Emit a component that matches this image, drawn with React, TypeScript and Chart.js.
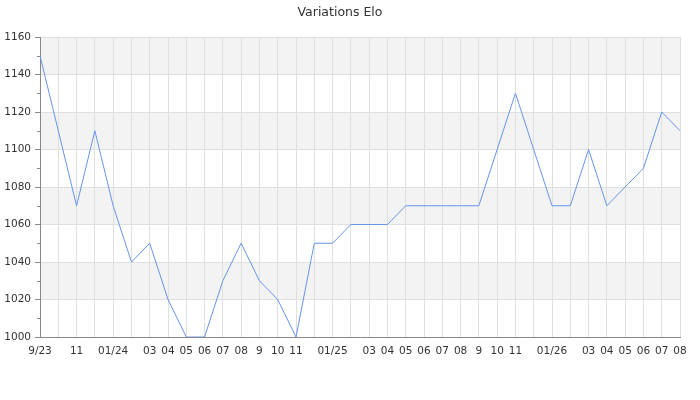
import { useEffect, useRef } from 'react'
import { Chart, registerables } from 'chart.js'

Chart.register(...registerables)

// one label per month, Sep 2023 -> Aug 2026 (blank where the original shows none)
const tickLabels = [
  '9/23', '', '11', '', '01/24', '', '03', '04', '05', '06', '07', '08',
  '9', '10', '11', '', '01/25', '', '03', '04', '05', '06', '07', '08',
  '9', '10', '11', '', '01/26', '', '03', '04', '05', '06', '07', '08',
]

const eloValues = [
  1150, 1110, 1070, 1110, 1070, 1040, 1050, 1020, 1000, 1000, 1030, 1050,
  1030, 1020, 1000, 1050, 1050, 1060, 1060, 1060, 1070, 1070, 1070, 1070,
  1070, 1100, 1130, 1100, 1070, 1070, 1100, 1070, 1080, 1090, 1120, 1110,
]

const yMin = 1000
const yMax = 1160
const yMajor = 20
const yMinor = 10

const FONT = "'DejaVu Sans', sans-serif"

export default function App() {
  const canvasRef = useRef<HTMLCanvasElement>(null)
  const chartRef = useRef<Chart | null>(null)

  useEffect(() => {
    if (!canvasRef.current) return
    if (chartRef.current) { chartRef.current.destroy(); chartRef.current = null }

    const isMajor = (v: number) => (v - yMin) % yMajor === 0

    // alternating grey bands between major gridlines
    const bands = {
      id: 'bands',
      beforeDraw(chart: any) {
        const { ctx: c, chartArea: { left, right }, scales: { y } } = chart
        c.save()
        c.fillStyle = '#f3f3f3'
        for (let v = yMin, i = 0; v < yMax; v += yMajor, i++) {
          if (i % 2 === 0) continue
          const top = y.getPixelForValue(v + yMajor)
          const bot = y.getPixelForValue(v)
          c.fillRect(left, top, right - left, bot - top)
        }
        c.restore()
      },
    }

    // short ticks between labelled values
    const minorTicks = {
      id: 'minorTicks',
      afterDraw(chart: any) {
        const { ctx: c, chartArea: { left }, scales: { y } } = chart
        c.save()
        c.strokeStyle = '#888'
        c.lineWidth = 1
        for (let v = yMin + yMinor; v < yMax; v += yMajor) {
          const py = Math.round(y.getPixelForValue(v)) + 0.5
          c.beginPath(); c.moveTo(left - 3, py); c.lineTo(left, py); c.stroke()
        }
        c.restore()
      },
    }

    chartRef.current = new Chart(canvasRef.current.getContext('2d')!, {
      type: 'line',
      data: {
        labels: tickLabels,
        datasets: [{
          label: 'Elo',
          data: eloValues,
          borderColor: '#6495ed',
          borderWidth: 1,
          pointRadius: 0,
          tension: 0,
          fill: false,
        }],
      },
      options: {
        animation: false,
        responsive: true,
        maintainAspectRatio: false,
        layout: { padding: { left: 0, right: 20, top: 0, bottom: 0 } },
        plugins: {
          legend: { display: false },
          tooltip: { enabled: false },
          title: {
            display: true,
            text: 'Variations Elo',
            color: '#333',
            font: { family: FONT, size: 12.5, weight: 'normal' },
            padding: { top: 5, bottom: 17 },
          },
        },
        scales: {
          x: {
            offset: false,
            afterFit: (s: any) => { s.height = 63 },
            border: { color: '#888' },
            grid: { color: '#e0e0e0', drawTicks: false },
            ticks: {
              color: '#333',
              font: { family: FONT, size: 10.5 },
              autoSkip: false,
              maxRotation: 0,
              padding: 8,
            },
          },
          y: {
            min: yMin,
            max: yMax,
            afterFit: (s: any) => { s.width = 40 },
            border: { color: '#888' },
            grid: {
              color: (ctx: any) => isMajor(ctx.tick.value) ? '#e0e0e0' : 'transparent',
              tickColor: (ctx: any) => isMajor(ctx.tick.value) ? '#888' : 'transparent',
              tickLength: 5,
            },
            ticks: {
              stepSize: yMinor,
              color: '#333',
              font: { family: FONT, size: 10.5 },
              padding: 4,
              callback: (v: any) => isMajor(v) ? v : '',
            },
          },
        },
      },
      plugins: [bands, minorTicks],
    })

    return () => { chartRef.current?.destroy(); chartRef.current = null }
  }, [])

  return (
    <div style={{ position: 'absolute', left: 0, top: 0, width: 700, height: 400, background: '#fff' }}>
      <canvas ref={canvasRef} />
    </div>
  )
}
